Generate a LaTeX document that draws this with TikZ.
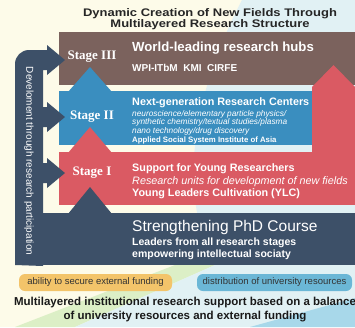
\documentclass[tikz,border=0pt]{standalone}
\usepackage{fontspec}
\setmainfont{Liberation Sans}
\newfontfamily\stagefont{Liberation Serif}
\newfontfamily\widesans[FakeStretch=1.18]{Liberation Sans}
\definecolor{cream}{HTML}{FDFBE9}
\definecolor{skyback}{HTML}{E1F1F4}
\definecolor{deepsky}{HTML}{A8D8EA}
\definecolor{leafback}{HTML}{DCEFC6}
\definecolor{hubbrown}{HTML}{7B625D}
\definecolor{centerblue}{HTML}{3A8EBF}
\definecolor{youngred}{HTML}{DA5A63}
\definecolor{phdnavy}{HTML}{3D5068}
\definecolor{fundorange}{HTML}{F3C46A}
\definecolor{resblue}{HTML}{6BB7D6}
\begin{document}
\begin{tikzpicture}[x=1pt,y=-1pt,
    stagelbl/.style={text=white,inner sep=0pt,font=\stagefont\bfseries\fontsize{13}{13}\selectfont},
    headlbl/.style={anchor=west,inner sep=0pt,text=white,font=\bfseries\fontsize{10.8}{12}\selectfont},
    notelbl/.style={anchor=west,inner sep=0pt,text=white,font=\itshape\fontsize{8.3}{9}\selectfont},
    pill/.style={rounded corners=6pt,minimum height=17pt,inner sep=0pt,text=black!80,font=\fontsize{9.5}{10}\selectfont}]
  \useasboundingbox (0,0) rectangle (355,327);
  \fill[cream] (0,0) rectangle (355,327);
  \fill[skyback] (242,0) .. controls (195,90) and (175,190) .. (215,265) -- (355,265) -- (355,0) -- cycle;
  \fill[leafback] (15,327) -- (175,265) -- (215,265) -- (75,327) -- cycle;
  \fill[skyback] (75,327) -- (215,265) -- (355,265) -- (355,327) -- cycle;
  \fill[deepsky] (250,327) -- (355,298) -- (355,327) -- cycle;

  \fill[hubbrown] (59,32) rectangle (355,85);
  \fill[centerblue] (59,91) rectangle (312,145);
  \fill[centerblue] (68,92) -- (90,67) -- (112,92) -- cycle;
  \fill[youngred] (59,152) rectangle (355,205);
  \fill[youngred] (312,153) -- (312,87) -- (333.5,65) -- (355,87) -- (355,153) -- cycle;
  \fill[youngred] (68,153) -- (90,127) -- (112,153) -- cycle;
  \fill[phdnavy] (15,213) rectangle (355,265);
  \fill[phdnavy] (68,214) -- (90,187) -- (112,214) -- cycle;
  \fill[phdnavy] (15,265) [rounded corners=14pt] -- (15,50) [sharp corners] -- (47,50) -- (47,45) -- (65,60)
    -- (47,75) -- (47,70) -- (43,70) -- (43,107) -- (47,107) -- (47,102) -- (65,117) -- (47,132)
    -- (47,127) -- (43,127) -- (43,163) -- (47,163) -- (47,158) -- (65,173) -- (47,188) -- (47,183)
    -- (43,183) -- (43,266) -- cycle;

  \node[align=center,text=black!85,font=\widesans\bfseries\fontsize{11}{10}\selectfont] (title) at (210,19)
    {Dynamic Creation of New Fields Through\\Multilayered Research Structure};
  \node[rotate=-90,text=white,font=\fontsize{10}{10}\selectfont] (develop) at (29,161)
    {Develoment through research participation};

  \node[stagelbl] (stage3) at (92,57) {Stage III};
  \node[headlbl,font=\bfseries\fontsize{13.2}{14}\selectfont] (hubs) at (132,48) {World-leading research hubs};
  \node[headlbl,font=\bfseries\fontsize{10}{11}\selectfont] (hubnames) at (132,68) {WPI-ITbM\ \ KMI\ \ CIRFE};

  \node[stagelbl] (stage2) at (92,117) {Stage II};
  \node[headlbl] (centers) at (132,103) {Next-generation Research Centers};
  \node[notelbl] (field1) at (132,114) {neuroscience/elementary particle physics/};
  \node[notelbl] (field2) at (132,122.5) {synthetic chemistry/textual studies/plasma};
  \node[notelbl] (field3) at (132,131.5) {nano technology/drug discovery};
  \node[headlbl,font=\bfseries\fontsize{7.8}{9}\selectfont] (asia) at (132,140) {Applied Social System Institute of Asia};

  \node[stagelbl] (stage1) at (92,173) {Stage I};
  \node[headlbl] (young) at (132,169) {Support for Young Researchers};
  \node[headlbl,font=\itshape\fontsize{10.8}{12}\selectfont] (units) at (132,182) {Research units for development of new fields};
  \node[headlbl] (ylc) at (132,194) {Young Leaders Cultivation (YLC)};

  \node[headlbl,font=\fontsize{15.5}{16}\selectfont] (phd) at (132,227) {Strengthening PhD Course};
  \node[headlbl,font=\bfseries\fontsize{10.5}{12}\selectfont] (leaders) at (132,243) {Leaders from all research stages};
  \node[headlbl,font=\bfseries\fontsize{10.5}{12}\selectfont] (society) at (132,255) {empowering intellectual sociaty};

  \node[pill,fill=fundorange,minimum width=153pt] (funding) at (95.5,282.5) {ability to secure external funding};
  \node[pill,fill=resblue,minimum width=155pt] (resources) at (274.5,282.5) {distribution of university resources};

  \node[align=center,text=black!90,font=\bfseries\fontsize{11.5}{14}\selectfont] (balance) at (185,310)
    {Multilayered institutional research support based on a balance\\of university resources and external funding};
\end{tikzpicture}
\end{document}
